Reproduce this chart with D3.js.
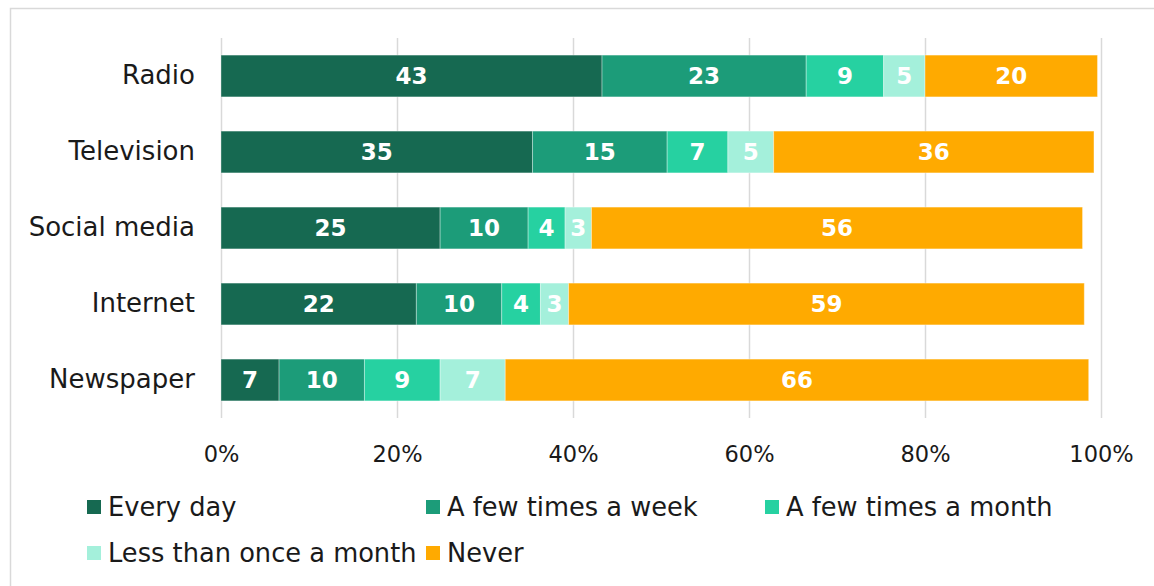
<!DOCTYPE html>
<html>
<head>
<meta charset="utf-8">
<script src="https://cdn.jsdelivr.net/npm/d3@7"></script>
<style>
    body { margin: 0; background: #fff; }
    svg { display: block; }
    .axis text { font-family: "DejaVu Sans", sans-serif; fill: #1a1a1a; }
    .axis .domain { display: none; }
</style>
</head>
<body>
<div id="chart"></div>
<script>
// media use frequency, percent of respondents
var categories = ['Radio', 'Television', 'Social media', 'Internet', 'Newspaper'];
var seriesNames = ['Every day', 'A few times a week', 'A few times a month', 'Less than once a month', 'Never'];
var everyDay = [43.3, 35.4, 24.9, 22.2, 6.6];
var fewTimesWeek = [23.2, 15.3, 10.0, 9.7, 9.7];
var fewTimesMonth = [8.8, 6.9, 4.2, 4.4, 8.6];
var lessThanMonth = [4.7, 5.2, 3.0, 3.2, 7.4];
var never = [19.6, 36.4, 55.8, 58.6, 66.3];
var tickValues = [0, 20, 40, 60, 80, 100];
var colors = ['#166951', '#1c9c79', '#26d1a1', '#a4f0db', '#ffaa00'];

var width = 1154,
    height = 586,
    font = '"DejaVu Sans", sans-serif';

var columns = [everyDay, fewTimesWeek, fewTimesMonth, lessThanMonth, never];
var rows = categories.map(function(c, i) {
    var row = { category: c };
    seriesNames.forEach(function(s, j) { row[s] = columns[j][i]; });
    return row;
});

var stacked = d3.stack().keys(seriesNames)(rows);

var svg = d3.select('#chart').append('svg')
    .attr('width', width)
    .attr('height', height);

// chart frame
svg.append('rect')
    .attr('x', 10.5).attr('y', 8.5)
    .attr('width', width).attr('height', height)
    .attr('fill', 'none')
    .attr('stroke', '#d9d9d9')
    .attr('stroke-width', 1.5);

var x = d3.scaleLinear().domain([0, 100]).range([221, 1101]);
var y = d3.scaleBand().domain(categories).range([38, 418])
    .paddingInner(0.45).paddingOuter(0.225);

// gridlines + tick labels
var xAxis = svg.append('g')
    .attr('class', 'axis')
    .attr('transform', 'translate(0,418)')
    .call(d3.axisBottom(x).tickValues(tickValues)
        .tickSize(-380).tickPadding(28)
        .tickFormat(function(d) { return d + '%'; }));
xAxis.selectAll('line').attr('stroke', '#d9d9d9').attr('stroke-width', 1.5);
xAxis.selectAll('text').style('font-size', '22.5px');

var yAxis = svg.append('g')
    .attr('class', 'axis')
    .attr('transform', 'translate(221,0)')
    .call(d3.axisLeft(y).tickSize(0).tickPadding(26));
yAxis.selectAll('text').style('font-size', '26px');

var layers = svg.append('g')
    .selectAll('g')
    .data(stacked)
    .enter().append('g')
    .attr('fill', function(d, i) { return colors[i]; });

layers.selectAll('rect')
    .data(function(d) { return d; })
    .enter().append('rect')
    .attr('x', function(d) { return x(d[0]); })
    .attr('y', function(d) { return y(d.data.category); })
    .attr('width', function(d) { return x(d[1]) - x(d[0]); })
    .attr('height', y.bandwidth())
    .attr('stroke', '#ffffff')
    .attr('stroke-opacity', 0.35)
    .attr('stroke-width', 1);

layers.selectAll('text')
    .data(function(d) { return d; })
    .enter().append('text')
    .attr('x', function(d) { return (x(d[0]) + x(d[1])) / 2; })
    .attr('y', function(d) { return y(d.data.category) + y.bandwidth() / 2; })
    .attr('dy', '0.36em')
    .attr('text-anchor', 'middle')
    .attr('fill', '#ffffff')
    .style('font-family', font)
    .style('font-weight', 'bold')
    .style('font-size', '23px')
    .text(function(d) { return Math.round(d[1] - d[0]); });

// legend, two rows like the original
var legendPos = [[87, 507], [426, 507], [765, 507], [87, 553], [426, 553]];
var legend = svg.append('g')
    .selectAll('g')
    .data(seriesNames)
    .enter().append('g')
    .attr('transform', function(d, i) { return 'translate(' + legendPos[i][0] + ',' + legendPos[i][1] + ')'; });

legend.append('rect')
    .attr('x', 0).attr('y', -7)
    .attr('width', 14).attr('height', 14)
    .attr('fill', function(d, i) { return colors[i]; });

legend.append('text')
    .attr('x', 21)
    .attr('dy', '0.36em')
    .attr('fill', '#1a1a1a')
    .style('font-family', font)
    .style('font-size', '25.7px')
    .text(function(d) { return d; });
</script>
</body>
</html>
